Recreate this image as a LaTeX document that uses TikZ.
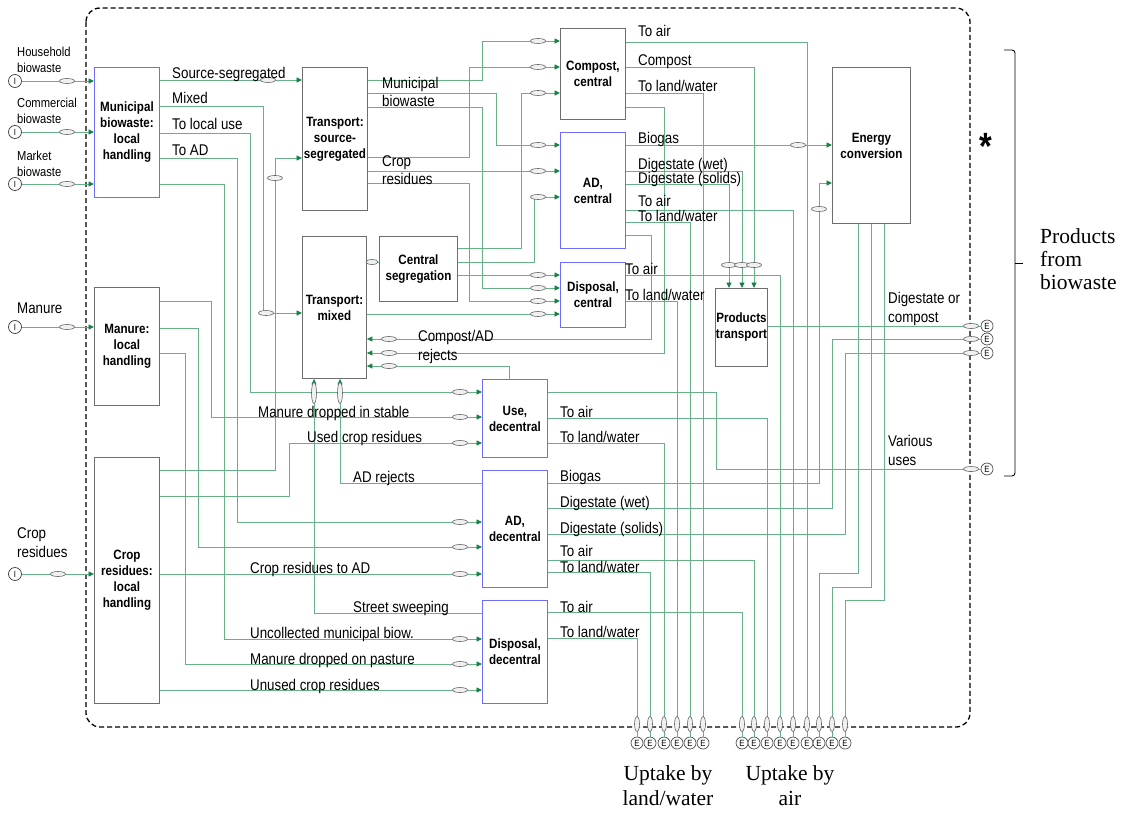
\documentclass[tikz,border=0pt]{standalone}
\usepackage{fontspec}
\newfontfamily\nar{Liberation Sans}[FakeStretch=0.86]
\newfontfamily\ser{Liberation Serif}
\usetikzlibrary{arrows.meta,shapes.geometric}
\definecolor{flowg}{RGB}{104,176,136}
\definecolor{tipg}{RGB}{20,130,70}
\definecolor{boxgray}{RGB}{110,110,110}
\definecolor{boxblue}{RGB}{110,110,250}
\tikzset{
 box/.style={draw=boxgray, line width=0.9pt, fill=white, inner sep=0pt, align=center, anchor=north west, font=\nar\bfseries\fontsize{13.5}{16}\selectfont},
 bbox/.style={box, draw=boxblue},
 flow/.style={draw=flowg, line width=0.9pt},
 tip/.style={-{Stealth[length=5.5pt,width=5pt,inset=0pt,color=tipg]}},
 lab/.style={inner sep=0pt, anchor=base west, align=left, font=\nar\fontsize{15.5}{18.5}\selectfont},
 slab/.style={lab, font=\nar\fontsize{13}{16}\selectfont},
 ser/.style={inner sep=0pt, font=\ser\fontsize{21.5}{23}\selectfont},
 mk/.style={ellipse, draw=gray!80!black, fill=gray!12, line width=0.6pt, minimum width=15pt, minimum height=5pt, inner sep=0pt},
 mkv/.style={mk, minimum width=5pt, minimum height=15pt},
 inp/.style={circle, draw=black!75, line width=0.7pt, fill=white, minimum size=13pt, inner sep=0pt, font=\nar\fontsize{9}{9}\selectfont},
 outp/.style={inp, draw=gray!60!black, minimum size=12pt},
}
\begin{document}
\begin{tikzpicture}[x=1pt,y=-1pt]
\useasboundingbox (0,0) rectangle (1126,813);
% system boundary
\draw[dash pattern=on 5pt off 3pt, line width=1.3pt, rounded corners=14pt] (86,8) rectangle (970,727);
% boxes
\node[bbox, text width=65pt, minimum height=130pt] (mun) at (94,67) {Municipal\\biowaste:\\local\\handling};
\node[box, text width=65pt, minimum height=143pt] (tss) at (302,67) {Transport:\\source-\\segregated};
\node[box, text width=65pt, minimum height=91pt] (comp) at (560,28) {Compost,\\central};
\node[bbox, text width=65pt, minimum height=116pt] (adc) at (560,132) {AD,\\central};
\node[box, text width=78pt, minimum height=156pt] (enc) at (832,67) {Energy\\conversion};
\node[box, text width=64pt, minimum height=142pt] (tmx) at (302,236) {Transport:\\mixed};
\node[box, text width=78pt, minimum height=65pt] (cseg) at (379,236) {Central\\segregation};
\node[bbox, text width=65pt, minimum height=65pt] (disc) at (560,262) {Disposal,\\central};
\node[box, text width=52pt, minimum height=78pt] (prt) at (715,288) {Products\\transport};
\node[box, text width=65pt, minimum height=118pt] (man) at (94,287) {Manure:\\local\\handling};
\node[box, text width=65pt, minimum height=246pt] (crop) at (94,457) {Crop\\residues:\\local\\handling};
\node[bbox, text width=65pt, minimum height=78pt] (use) at (482,379) {Use,\\decentral};
\node[bbox, text width=65pt, minimum height=117pt] (add) at (482,470) {AD,\\decentral};
\node[bbox, text width=65pt, minimum height=103pt] (disd) at (482,600) {Disposal,\\decentral};
% inputs
\node[inp] (iH) at (15,81) {I};
\node[inp] (iC) at (15,132) {I};
\node[inp] (iK) at (15,184) {I};
\node[inp] (iM) at (15,327) {I};
\node[inp] (iR) at (15,574) {I};
% outputs
\foreach \n/\x in {1/637,2/650,3/664,4/677,5/690,6/703}{\node[outp] (oL\n) at (\x,743) {E};}
\foreach \n/\x in {1/742,2/754,3/767,4/780,5/793,6/807,7/819,8/832,9/845}{\node[outp] (oA\n) at (\x,743) {E};}
\node[outp] (oP1) at (987,326) {E};
\node[outp] (oP2) at (987,339) {E};
\node[outp] (oP3) at (987,353) {E};
\node[outp] (oP4) at (987,469) {E};
% input flows
\draw[flow,tip] (iH) -- (mun.west |- iH);
\draw[flow,tip] (iC) -- (mun.west |- iC);
\draw[flow,tip] (iK) -- (mun.west |- iK);
\draw[flow,tip] (iM) -- (man.west |- iM);
\draw[flow,tip] (iR) -- (crop.west |- iR);
% municipal local handling
\draw[flow,tip] (mun.east |- 0,80) -- (tss.west |- 0,80);
\draw[flow,tip] (mun.east |- 0,106) -| (263,313) -- (tmx.west |- 0,313);
\draw[flow,tip] (mun.east |- 0,133) -| (250,392) -- (use.west |- 0,392);
\draw[flow,tip] (mun.east |- 0,158) -| (237,522) -- (add.west |- 0,522);
\draw[flow,tip] (mun.east |- 0,184) -| (224,639) -- (disd.west |- 0,639);
% manure local handling
\draw[flow,tip] (man.east |- 0,301) -| (211,417) -- (use.west |- 0,417);
\draw[flow,tip] (man.east |- 0,328) -| (198,547) -- (add.west |- 0,547);
\draw[flow,tip] (man.east |- 0,353) -| (185,664) -- (disd.west |- 0,664);
% crop local handling
\draw[flow,tip] (crop.east |- 0,470) -| (275,158) -- (tss.west |- 0,158);
\draw[flow,tip] (crop.east |- 0,496) -| (289,443) -- (use.west |- 0,443);
\draw[flow,tip] (crop.east |- 0,574) -- (add.west |- 0,574);
\draw[flow,tip] (crop.east |- 0,690) -- (disd.west |- 0,690);
% transport source-segregated
\draw[flow,tip] (tss.east |- 0,80) -| (482,41) -- (comp.west |- 0,41);
\draw[flow,tip] (tss.east |- 0,93) -| (496,145) -- (adc.west |- 0,145);
\draw[flow,tip] (tss.east |- 0,107) -| (482,288) -- (disc.west |- 0,288);
\draw[flow,tip] (tss.east |- 0,157) -| (469,67) -- (comp.west |- 0,67);
\draw[flow,tip] (tss.east |- 0,171) -- (adc.west |- 0,171);
\draw[flow,tip] (tss.east |- 0,183) -| (469,301) -- (disc.west |- 0,301);
% central segregation / transport mixed
\draw[flow,tip] (cseg.east |- 0,248) -| (521,93) -- (comp.west |- 0,93);
\draw[flow,tip] (cseg.east |- 0,262) -| (534,197) -- (adc.west |- 0,197);
\draw[flow,tip] (cseg.east |- 0,275) -- (disc.west |- 0,275);
\draw[flow,tip] (tmx.east |- 0,314) -- (disc.west |- 0,314);
\draw[flow] (tmx.east |- 0,262) -- (cseg.west |- 0,262);
% compost central
\draw[flow] (comp.east |- 0,42) -| (oA6.north);
\draw[flow,tip] (comp.east |- 0,67) -| (prt.north -| 754,0);
\draw[flow] (comp.east |- 0,93) -| (oL6.north);
\draw[flow,tip] (comp.east |- 0,107) -| (664,353) -- (tmx.east |- 0,353);
% AD central
\draw[flow,tip] (adc.east |- 0,145) -- (enc.west |- 0,145);
\draw[flow,tip] (adc.east |- 0,171) -| (prt.north -| 742,0);
\draw[flow,tip] (adc.east |- 0,184) -| (prt.north -| 729,0);
\draw[flow] (adc.east |- 0,210) -| (oA5.north);
\draw[flow] (adc.east |- 0,222) -| (oL5.north);
\draw[flow,tip] (adc.east |- 0,235) -| (651,339) -- (tmx.east |- 0,339);
% disposal central
\draw[flow] (disc.east |- 0,275) -| (oA4.north);
\draw[flow] (disc.east |- 0,301) -| (oL4.north);
% products transport
\draw[flow] (prt.east |- 0,326) -- (oP1);
% use decentral
\draw[flow,tip] (use.north -| 509,0) |- (tmx.east |- 0,366);
\draw[flow] (use.east |- 0,392) -| (716,469) -- (oP4);
\draw[flow] (use.east |- 0,418) -| (oA3.north);
\draw[flow] (use.east |- 0,443) -| (oL3.north);
% AD decentral
\draw[flow,tip] (add.west |- 0,483) -| (tmx.south -| 340,0);
\draw[flow,tip] (add.east |- 0,483) -| (819,183) -- (enc.west |- 0,183);
\draw[flow] (add.east |- 0,508) -| (832,339) -- (oP2);
\draw[flow] (add.east |- 0,534) -| (845,353) -- (oP3);
\draw[flow] (add.east |- 0,560) -| (oA2.north);
\draw[flow] (add.east |- 0,572) -| (oL2.north);
% disposal decentral
\draw[flow,tip] (disd.west |- 0,613) -| (tmx.south -| 314,0);
\draw[flow] (disd.east |- 0,612) -| (oA1.north);
\draw[flow] (disd.east |- 0,638) -| (oL1.north);
% energy conversion
\draw[flow] (enc.south -| 858,0) -- (858,573) -| (oA7.north);
\draw[flow] (enc.south -| 871,0) -- (871,587) -| (oA8.north);
\draw[flow] (enc.south -| 884,0) -- (884,600) -| (oA9.north);
% flow markers
\foreach \x/\y [count=\i] in {67/81,67/132,67/184,67/327,58/574,268/80,266/313,275/178,
  460/392,460/417,460/443,460/522,460/547,460/574,460/639,460/664,460/690,
  538/41,538/67,538/93,538/145,538/171,538/197,538/275,538/288,538/301,538/314,
  389/339,389/353,389/366,798/145,819/209,729/265,742/265,754/265,
  971/326,971/339,971/353,971/469}{\node[mk] (mh\i) at (\x,\y) {};}
\node[mk, minimum width=12pt] (mseg) at (372,262) {};
\node[mkv, minimum height=21pt] (mv1) at (314,393) {};
\node[mkv, minimum height=21pt] (mv2) at (340,393) {};
\foreach \x [count=\i] in {637,650,664,677,690,703,742,754,767,780,793,807,819,832,845}{\node[mkv] (mb\i) at (\x,724) {};}
% labels (anchor = baseline of last line)
\node[slab] (tH) at (17,73) {Household\\biowaste};
\node[slab] (tC) at (17,124) {Commercial\\biowaste};
\node[slab] (tK) at (17,177) {Market\\biowaste};
\node[lab] (tM) at (17,313) {Manure};
\node[lab] (tR) at (17,557) {Crop\\residues};
\node[lab] (l1) at (172,79) {Source-segregated};
\node[lab] (l2) at (172,104) {Mixed};
\node[lab] (l3) at (172,130) {To local use};
\node[lab] (l4) at (172,156) {To AD};
\node[lab] (l5) at (382,107) {Municipal\\biowaste};
\node[lab] (l6) at (382,185) {Crop\\residues};
\node[lab] (l7) at (638,37) {To air};
\node[lab] (l8) at (638,66) {Compost};
\node[lab] (l9) at (638,92) {To land/water};
\node[lab] (l10) at (638,144) {Biogas};
\node[lab] (l11) at (638,170) {Digestate (wet)};
\node[lab] (l12) at (638,183) {Digestate (solids)};
\node[lab] (l13) at (638,207) {To air};
\node[lab] (l14) at (638,221) {To land/water};
\node[lab] (l15) at (625,274) {To air};
\node[lab] (l16) at (625,300) {To land/water};
\node[lab] (l17) at (418,360) {Compost/AD\\rejects};
\node[lab] (l18) at (258,417) {Manure dropped in stable};
\node[lab] (l19) at (307,442) {Used crop residues};
\node[lab] (l20) at (353,482) {AD rejects};
\node[lab] (l21) at (560,417) {To air};
\node[lab] (l22) at (560,442) {To land/water};
\node[lab] (l23) at (560,481) {Biogas};
\node[lab] (l24) at (560,507) {Digestate (wet)};
\node[lab] (l25) at (560,533) {Digestate (solids)};
\node[lab] (l26) at (560,556) {To air};
\node[lab] (l27) at (560,572) {To land/water};
\node[lab] (l28) at (250,573) {Crop residues to AD};
\node[lab] (l29) at (353,612) {Street sweeping};
\node[lab] (l30) at (250,638) {Uncollected municipal biow.};
\node[lab] (l31) at (250,664) {Manure dropped on pasture};
\node[lab] (l32) at (250,690) {Unused crop residues};
\node[lab] (l33) at (560,612) {To air};
\node[lab] (l34) at (560,637) {To land/water};
\node[lab, font=\nar\fontsize{15.5}{19}\selectfont] (l35) at (888,322) {Digestate or\\compost};
\node[lab, font=\nar\fontsize{15.5}{18.5}\selectfont] (l36) at (888,465) {Various\\uses};
% right annotations
\node[inner sep=0pt, anchor=base west, font=\nar\bfseries\fontsize{38}{38}\selectfont] (star) at (979,160) {*};
\draw[line width=0.9pt, rounded corners=3pt] (1004,50) -- (1015,50) -- (1015,476) -- (1004,476);
\draw[line width=0.9pt] (1015,263) -- (1023,263);
\node[ser, anchor=base west] (p1) at (1040,243) {Products};
\node[ser, anchor=base west] (p2) at (1040,266) {from};
\node[ser, anchor=base west] (p3) at (1040,289) {biowaste};
\node[ser, anchor=base] (u1) at (668,780) {Uptake by};
\node[ser, anchor=base] (u2) at (668,805) {land/water};
\node[ser, anchor=base] (u3) at (790,780) {Uptake by};
\node[ser, anchor=base] (u4) at (790,805) {air};
\end{tikzpicture}
\end{document}
